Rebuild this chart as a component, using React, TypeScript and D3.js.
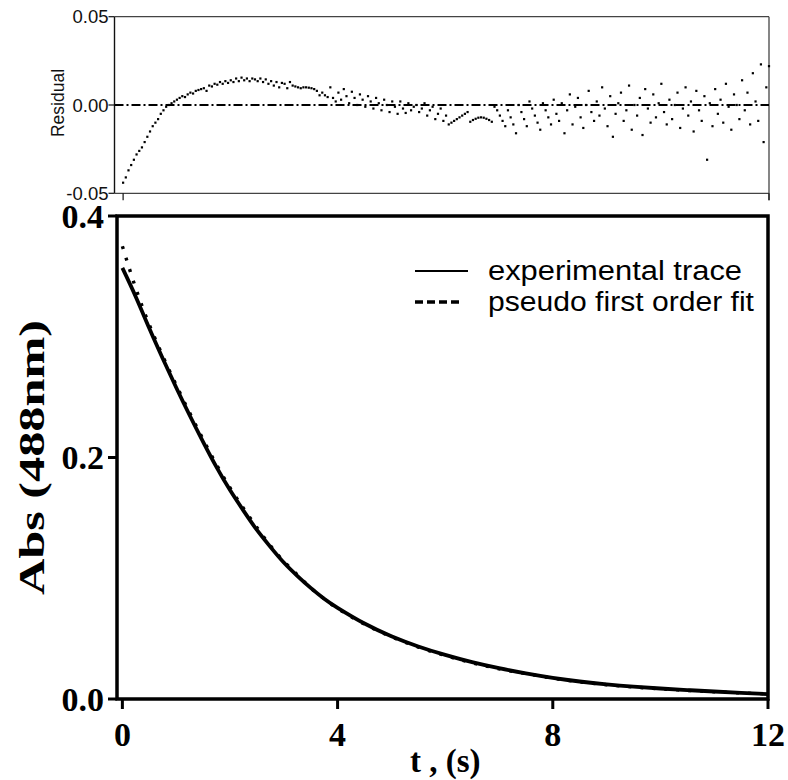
import React from "react";
import * as d3 from "d3";

// ---- data ----
const traceTime = [0, 0.25, 0.5, 0.75, 1, 1.25, 1.5, 1.75, 2, 2.25, 2.5, 2.75, 3, 3.25, 3.5, 3.75, 4, 4.5, 5, 5.5, 6, 6.5, 7, 7.5, 8, 8.5, 9, 9.5, 10, 10.5, 11, 11.5, 12];
const experimental = [0.357, 0.333, 0.307, 0.282, 0.258, 0.235, 0.213, 0.192, 0.173, 0.156, 0.140, 0.126, 0.113, 0.102, 0.092, 0.083, 0.0755, 0.0625, 0.052, 0.0435, 0.0365, 0.0305, 0.0255, 0.0212, 0.0175, 0.0145, 0.0121, 0.0102, 0.0087, 0.0074, 0.0062, 0.0051, 0.0041];
const fit = [0.375, 0.340, 0.310, 0.284, 0.260, 0.237, 0.215, 0.194, 0.175, 0.158, 0.142, 0.127, 0.114, 0.103, 0.092, 0.083, 0.075, 0.062, 0.0515, 0.043, 0.036, 0.030, 0.025, 0.021, 0.0172, 0.0142, 0.0118, 0.0099, 0.0084, 0.0071, 0.006, 0.005, 0.0042];

const residualStep = 0.05; // s between residual samples
const residual = [
  // 0.00 - 1.00
  -0.044, -0.041, -0.037, -0.034, -0.031, -0.028, -0.026, -0.024, -0.021, -0.018,
  -0.015, -0.012, -0.010, -0.008, -0.005, -0.003, -0.001, 0.000, 0.001, 0.002, 0.003,
  // 1.05 - 3.95
  0.004, 0.005, 0.0045, 0.006, 0.007, 0.0065, 0.008, 0.0085, 0.009, 0.0095,
  0.008, 0.011, 0.0105, 0.012, 0.0115, 0.013, 0.012, 0.0135, 0.0125, 0.014,
  0.013, 0.015, 0.0135, 0.0155, 0.014, 0.015, 0.0135, 0.015, 0.0145, 0.0135,
  0.015, 0.013, 0.0145, 0.012, 0.0135, 0.011, 0.013, 0.010, 0.0125, 0.012,
  0.0095, 0.013, 0.011, 0.0105, 0.010, 0.0095, 0.010, 0.010, 0.0098, 0.0095,
  0.009, 0.008, 0.0055, 0.007, 0.0055, 0.0045, 0.010, 0.004, 0.002,
  // 4.00 - 6.00
  0.007, 0.003, 0.009, 0.005, 0.001, 0.0075, 0.004, 0.000, 0.006, 0.003,
  -0.001, 0.005, 0.002, -0.002, 0.004, 0.001, -0.003, 0.003, 0.000, -0.004,
  0.002, -0.001, -0.005, 0.002, -0.002, -0.0045, 0.001, -0.003, -0.001, 0.000,
  -0.004, -0.002, 0.001, -0.006, -0.003, -0.001, -0.008, -0.005, -0.002, -0.009, -0.006,
  // 6.05 - 7.95
  -0.011, -0.010, -0.009, -0.008, -0.007, -0.006, -0.005, -0.004, -0.0095, -0.0085,
  -0.0078, -0.0072, -0.0070, -0.0072, -0.0078, -0.0085, -0.0095, -0.001, -0.003, -0.006,
  -0.009, -0.012, -0.003, -0.007, -0.011, -0.016, 0.000, -0.004, -0.008, -0.012,
  0.002, -0.002, -0.006, -0.010, -0.014, 0.001, -0.003, -0.007, -0.011,
  // 8.00 - 12.00
  0.003, -0.005, -0.009, 0.001, -0.016, -0.003, 0.006, -0.011, -0.001, 0.004,
  -0.007, -0.013, 0.000, 0.008, -0.004, -0.009, 0.002, -0.006, 0.010, -0.002,
  -0.012, 0.005, -0.018, -0.005, 0.001, 0.007, -0.009, -0.003, 0.011, -0.014,
  0.000, -0.006, 0.004, -0.017, 0.009, -0.002, -0.010, 0.006, -0.007, 0.001,
  0.012, -0.004, -0.011, 0.003, -0.008, 0.000, 0.007, -0.013, -0.002, 0.010,
  -0.006, 0.002, -0.015, 0.008, -0.003, -0.009, 0.005, -0.031, 0.001, -0.012,
  0.009, -0.005, 0.003, -0.010, 0.012, -0.001, -0.014, 0.006, 0.000, -0.008,
  0.014, -0.003, 0.007, -0.011, 0.018, 0.002, -0.009, 0.023, -0.021, 0.010,
  0.022,
];

const bottomXTicks = [0, 4, 8, 12];
const bottomYTicks = [0.0, 0.2, 0.4];
const topYTicks = [-0.05, 0.0, 0.05];
const topXTicks = [0, 12];
const legendItems = ["experimental trace", "pseudo first order fit"];

const SANS = "'Liberation Sans', Arial, sans-serif";
const SERIF = "'Liberation Serif', 'Times New Roman', serif";

export default function App() {
  // top (residual) panel
  const xTop = d3.scaleLinear().domain([-0.16, 12]).range([114.5, 769]);
  const yTop = d3.scaleLinear().domain([-0.05, 0.05]).range([193.3, 16.7]);
  // bottom panel
  const xBot = d3.scaleLinear().domain([-0.1, 12]).range([117, 768]);
  const yBot = d3.scaleLinear().domain([0, 0.4]).range([699, 216]);

  const expData = traceTime.map((t, i) => [t, experimental[i]] as [number, number]);
  const fitData = traceTime.map((t, i) => [t, fit[i]] as [number, number]);
  const line = d3
    .line<[number, number]>()
    .x((d) => xBot(d[0]))
    .y((d) => yBot(d[1]))
    .curve(d3.curveNatural);

  const resPts = residual.map((v, i) => [i * residualStep, v]);

  const [tx0, tx1] = xTop.range();
  const [ty0, ty1] = [yTop(0.05), yTop(-0.05)];
  const [bx0, bx1] = xBot.range();
  const [by0, by1] = [yBot(0.4), yBot(0)];

  return (
    <svg
      width={788}
      height={780}
      style={{ position: "absolute", left: 0, top: 0, background: "#fff" }}
    >
      <rect x={0} y={0} width={788} height={780} fill="#fff" />

      {/* ---------- Residual panel ---------- */}
      <line x1={tx0} x2={tx0} y1={ty0} y2={ty1} stroke="#111" strokeWidth={1.4} />
      <line x1={tx0} x2={tx1} y1={ty0} y2={ty0} stroke="#444" strokeWidth={1.3} />
      <line x1={tx1} x2={tx1} y1={ty0} y2={ty1 + 7} stroke="#444" strokeWidth={1.3} />
      <line x1={tx0} x2={tx1} y1={ty1} y2={ty1} stroke="#444" strokeWidth={1.3} />
      {topYTicks.map((v) => (
        <g key={v}>
          <line x1={tx0 - 6} x2={tx0} y1={yTop(v)} y2={yTop(v)} stroke="#111" strokeWidth={1.2} />
          <text
            x={tx0 - 6}
            y={yTop(v)}
            dy="0.36em"
            textAnchor="end"
            fontFamily={SANS}
            fontSize={18.5}
            fill="#111"
          >
            {v.toFixed(2)}
          </text>
        </g>
      ))}
      {topXTicks.map((t) => (
        <line key={t} x1={xTop(t)} x2={xTop(t)} y1={ty1} y2={ty1 + 7} stroke="#111" strokeWidth={1.2} />
      ))}
      <text
        transform={`translate(64,${(ty0 + ty1) / 2 - 2}) rotate(-90)`}
        textAnchor="middle"
        fontFamily={SANS}
        fontSize={17.5}
        fill="#111"
      >
        Residual
      </text>
      <line
        x1={tx0}
        x2={tx1}
        y1={yTop(0)}
        y2={yTop(0)}
        stroke="#000"
        strokeWidth={2}
        strokeDasharray="9 3 2 3"
      />
      {resPts.map((p, i) => (
        <rect key={i} x={xTop(p[0]) - 1.1} y={yTop(p[1]) - 1.1} width={2.2} height={2.2} fill="#000" />
      ))}

      {/* ---------- Main panel ---------- */}
      <path d={line(fitData) ?? ""} fill="none" stroke="#000" strokeWidth={3.4} strokeDasharray="3 9" />
      <path d={line(expData) ?? ""} fill="none" stroke="#000" strokeWidth={3.8} />

      <rect x={bx0} y={by0} width={bx1 - bx0} height={by1 - by0} fill="none" stroke="#000" strokeWidth={3.5} />

      {bottomYTicks.map((v) => (
        <g key={v}>
          <line x1={bx0 - 9} x2={bx0} y1={yBot(v)} y2={yBot(v)} stroke="#000" strokeWidth={3} />
          <text
            x={bx0 - 13}
            y={yBot(v)}
            dy="0.34em"
            textAnchor="end"
            fontFamily={SERIF}
            fontWeight="bold"
            fontSize={34}
            fill="#000"
          >
            {v.toFixed(1)}
          </text>
        </g>
      ))}
      {bottomXTicks.map((t) => (
        <g key={t}>
          <line x1={xBot(t)} x2={xBot(t)} y1={by1} y2={by1 + 10} stroke="#000" strokeWidth={3} />
          <text
            x={xBot(t)}
            y={746}
            textAnchor="middle"
            fontFamily={SERIF}
            fontWeight="bold"
            fontSize={34}
            fill="#000"
          >
            {t}
          </text>
        </g>
      ))}
      <text
        x={(xBot(0) + xBot(12)) / 2}
        y={772}
        textAnchor="middle"
        fontFamily={SERIF}
        fontWeight="bold"
        fontSize={33}
        fill="#000"
      >
        t , (s)
      </text>
      <text
        transform={`translate(44,${(by0 + by1) / 2}) rotate(-90)`}
        textAnchor="middle"
        fontFamily={SERIF}
        fontWeight="bold"
        fontSize={35}
        textLength={275}
        lengthAdjust="spacingAndGlyphs"
        fill="#000"
      >
        Abs (488nm)
      </text>

      {/* legend */}
      <line x1={415} x2={468} y1={271} y2={271} stroke="#000" strokeWidth={2} />
      <text x={488} y={280} fontFamily={SANS} fontSize={27} textLength={254} lengthAdjust="spacingAndGlyphs" fill="#000">
        {legendItems[0]}
      </text>
      <line x1={415} x2={462} y1={302} y2={302} stroke="#000" strokeWidth={3.5} strokeDasharray="8 4" />
      <text x={488} y={311} fontFamily={SANS} fontSize={27} textLength={266} lengthAdjust="spacingAndGlyphs" fill="#000">
        {legendItems[1]}
      </text>
    </svg>
  );
}
